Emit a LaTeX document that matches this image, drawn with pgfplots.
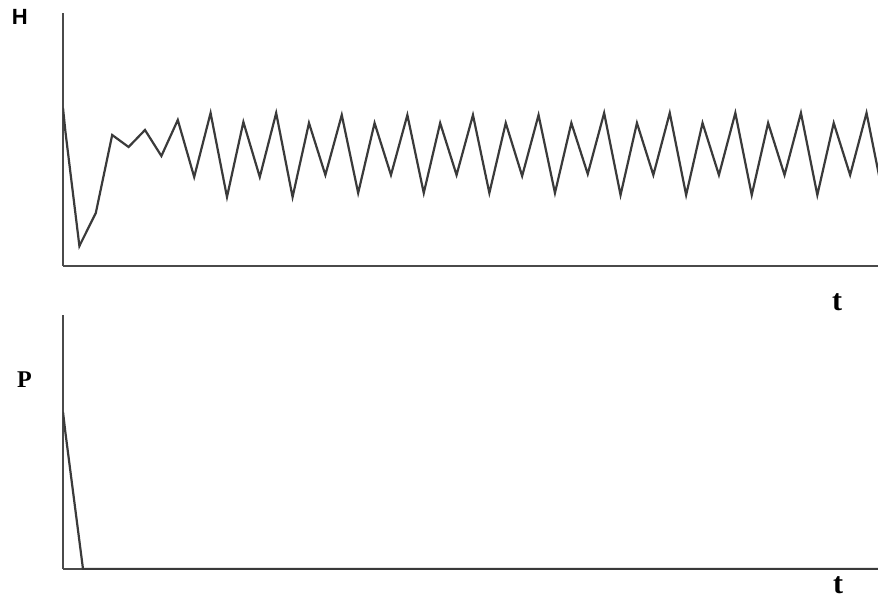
\documentclass[border=0pt]{standalone}
\usepackage{pgfplots}
\pgfplotsset{compat=1.18}
\usepackage{fontspec}
\setmainfont{Liberation Serif}
\newfontfamily\hsans{Liberation Sans}
\definecolor{ln}{HTML}{3A3A3A}
\definecolor{ax}{HTML}{4A4A4A}
\begin{document}
\begin{tikzpicture}[x=1pt,y=1pt]
\useasboundingbox (0,0) rectangle (878,600);
\pgfplotsset{every axis/.append style={
  scale only axis, width=815pt, xmin=0, xmax=49.7, ymin=0,
  axis x line=bottom, axis y line=left, axis line style={-, color=ax, line width=2.4pt},
  ticks=none, anchor=south west}}
% top panel
\begin{axis}[at={(63pt,334pt)}, height=253pt, ymax=253]
\addplot[ln, line width=2.2pt, line join=miter] coordinates {
(0,158) (0.15,134) (1,20) (2,53) (3,131) (4,119) (5,136) (6,110) (7,146) (8,89)
(9,153) (10,69) (11,144) (12,89) (13,153) (14,69) (15,143) (16,91) (17,151) (18,73)
(19,143) (20,91) (21,151) (22,73) (23,143) (24,91) (25,151) (26,73) (27,143) (28,90)
(29,151) (30,73) (31,143) (32,92) (33,153) (34,71) (35,143) (36,91) (37,153) (38,71)
(39,143) (40,91) (41,153) (42,71) (43,143) (44,91) (45,153) (46,71) (47,143) (48,91)
(49,153) (50,71)
};
\end{axis}
% bottom panel
\begin{axis}[at={(63pt,31pt)}, height=254pt, ymax=254]
\addplot[ln, line width=2.2pt] coordinates {
(0,157) (0.15,136) (1.22,0) (2,0) (10,0) (20,0) (30,0) (40,0) (49.7,0)
};
\end{axis}
\node[font=\hsans\bfseries\fontsize{22}{22}\selectfont] at (19.7,583) {H};
\node[font=\bfseries\fontsize{24}{24}\selectfont] at (24.5,220) {P};
\node[font=\bfseries\fontsize{30}{30}\selectfont] at (837,298) {t};
\node[font=\bfseries\fontsize{30}{30}\selectfont, anchor=north] at (838,27) {t};
\end{tikzpicture}
\end{document}
